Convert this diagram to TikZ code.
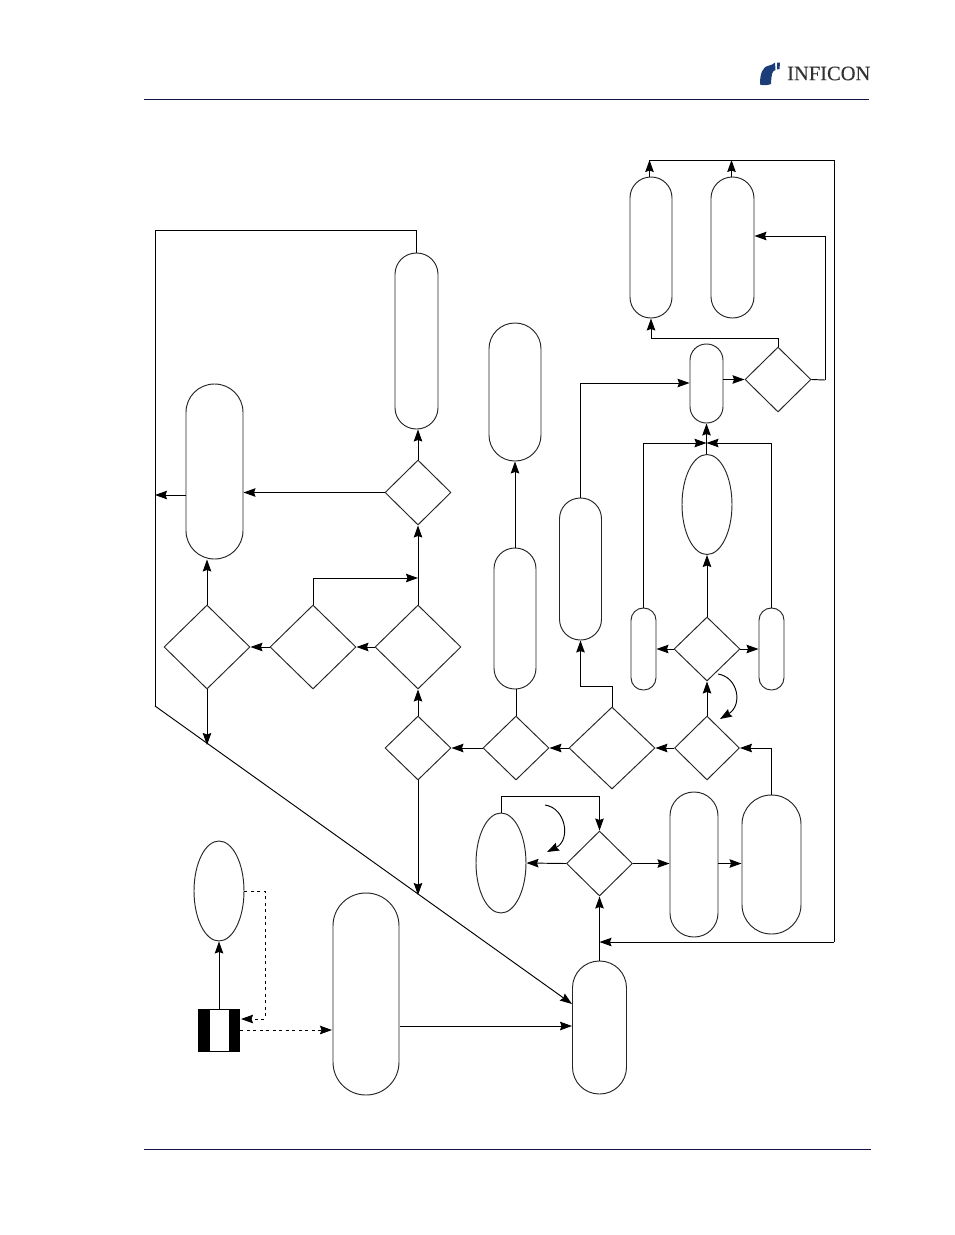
\documentclass[tikz,border=0pt]{standalone}
\usepackage{fontspec}
\setmainfont{Liberation Serif}
\newfontfamily\logofont[FakeBold=0.35]{Liberation Serif}
\usetikzlibrary{shapes.geometric,arrows.meta,calc}
\definecolor{rulenavy}{RGB}{20,20,70}
\definecolor{logoblue}{RGB}{28,62,120}
\tikzset{
  pill/.style 2 args={draw,rectangle,rounded corners=#1*0.5pt-0.2pt,minimum width=#1pt,minimum height=#2pt,inner sep=0pt,line width=0.95pt,draw=black!85},
  oval/.style={draw,ellipse,minimum width=50pt,minimum height=100pt,inner sep=0pt,line width=0.95pt,draw=black!85},
  choice/.style 2 args={draw,diamond,minimum width=#1pt,minimum height=#2pt,inner sep=0pt,line width=0.95pt,draw=black!85},
  flow/.style={-{Stealth[length=12pt,width=8.5pt,inset=1.5pt]},line width=0.95pt},
  plain/.style={line width=0.95pt},
  dashflow/.style={flow,dash pattern=on 3pt off 3.5pt},
  rulebar/.style={draw=rulenavy,line width=1pt}
}
\begin{document}
\begin{tikzpicture}[x=1pt,y=-1pt]
\useasboundingbox (0,0) rectangle (954,1235);

% page header and footer
\coordinate (hl) at (144,99); \coordinate (hr) at (869,99);
\coordinate (fl) at (144,1149); \coordinate (fr) at (871,1149);
\draw[rulebar] (hl) -- (hr);
\draw[rulebar] (fl) -- (fr);
\fill[logoblue] (760,84.5) .. controls (760,74) and (762,67) .. (769,65.5)
  .. controls (772,65) and (773,64) .. (775,62.5)
  -- (775.5,70) .. controls (772,71) and (771.5,74) .. (771,84)
  .. controls (767,85.5) and (763,85.5) .. (760,84.5) -- cycle;
\fill[logoblue] (777,62.5) -- (780,62.5) -- (779.5,69) -- (777,69.5) -- cycle;
\node[inner sep=0pt,anchor=west,font=\logofont\fontsize{20.5}{20.5}\selectfont,text=black!80] (logo) at (787,73.5) {INFICON};

% process and decision shapes
\node[pill={42}{141}] (p1) at (651,247.5) {};
\node[pill={43}{141}] (p2) at (732.5,247.5) {};
\node[pill={33}{79}] (p3) at (706.5,383.5) {};
\node[pill={25}{82}] (p4) at (643.5,649) {};
\node[pill={25}{82}] (p5) at (771.5,649) {};
\node[pill={42}{141}] (p6) at (515,618.5) {};
\node[pill={52}{138}] (p7) at (515,392) {};
\node[pill={42}{142}] (p8) at (580.5,569) {};
\node[pill={43}{176}] (p9) at (416.5,341) {};
\node[pill={57}{175}] (p10) at (214.5,471.5) {};
\node[pill={48}{145}] (p11) at (694,864.5) {};
\node[pill={59}{139}] (p12) at (771.5,864.5) {};
\node[pill={54}{133}] (p13) at (599.5,1027.5) {};
\node[pill={66}{202}] (p14) at (366,994) {};

\node[oval] (e1) at (707,504.5) {};
\node[oval] (e2) at (501,863) {};
\node[oval] (e3) at (219,891) {};

\node[choice={66}{65}] (d1) at (778,379.5) {};
\node[choice={66}{64}] (d2) at (707,649) {};
\node[choice={65}{64}] (d3) at (707,748) {};
\node[choice={86}{82}] (d4) at (612,748) {};
\node[choice={66}{64}] (d5) at (516,748) {};
\node[choice={66}{64}] (d6) at (418,748) {};
\node[choice={66}{65}] (d7) at (418,492.5) {};
\node[choice={86}{84}] (d8) at (418,647) {};
\node[choice={86}{84}] (d9) at (313,647) {};
\node[choice={86}{84}] (d10) at (207,647) {};
\node[choice={66}{65}] (d11) at (599.5,863.5) {};

% striped block
\node[fill=black,minimum width=42pt,minimum height=43pt,inner sep=0pt] (box) at (219,1030.5) {};
\node[fill=white,minimum width=19pt,minimum height=41pt,inner sep=0pt] (slot) at (219.5,1030.5) {};

% routing points
\coordinate (topl) at (649,160);
\coordinate (topr) at (834,160);
\coordinate (topa) at (649.5,160);
\coordinate (topb) at (731.5,160);
\coordinate (feed) at (599.5,942);
\coordinate (d1up) at (778,338);
\coordinate (d1r) at (825,380);
\coordinate (d1t) at (825,236);
\coordinate (join) at (706.5,443);
\coordinate (p8in) at (580.5,383);
\coordinate (d4a) at (612,686);
\coordinate (d4b) at (580.5,686);
\coordinate (d9a) at (313,578);
\coordinate (d9b) at (418,578);
\coordinate (ltop) at (155,230);
\coordinate (lbot) at (155,706);
\coordinate (ltap) at (155,495);
\coordinate (diaga) at (207,745);
\coordinate (diagb) at (418,895);
\coordinate (p13in) at (572,1004);
\coordinate (e2a) at (501,796);
\coordinate (e2b) at (599.5,796);
\coordinate (dashr) at (265,891);
\coordinate (dashb) at (265,1019);
\coordinate (dashe) at (241,1019);
\coordinate (dashs) at (240,1030);
\coordinate (dasht) at (332,1030);

% top collector and return rail
\draw[plain] (topl) -- (topr) -- (834,942);
\draw[flow] (834,942) -- (feed);
\draw[flow] (topa |- p1.north) -- (topa);
\draw[flow] (topb |- p2.north) -- (topb);
\draw[flow] (p13.north) -- (d11.south);

% upper right cluster
\draw[flow] (p3.east |- d1.west) -- (d1.west);
\draw[flow] (d1.north) -- (d1up) -| (p1.south);
\draw[plain] (d1.east) -- (d1r);
\draw[flow] (d1r) -- (d1t) -- (p2.east |- d1t);
\draw[flow] (e1.north -| join) -- (p3.south);
\draw[flow] (p4.north) |- (join);
\draw[flow] (p5.north) |- (join);
\draw[flow] (d2.north) -- (e1.south);
\draw[flow] (d2.west) -- (p4.east);
\draw[flow] (d2.east) -- (p5.west);
\draw[flow] (d3.north) -- (d2.south);
\coordinate (c1a) at (718,674); \coordinate (c1b) at (720,719);
\draw[flow] (c1a) .. controls (738,677) and (743,705) .. (c1b);

% central row
\draw[flow] (p12.north) |- (d3.east);
\draw[flow] (d3.west) -- (d4.east);
\draw[flow] (d4.west) -- (d5.east);
\draw[flow] (d5.west) -- (d6.east);
\draw[plain] (d5.north) -- (p6.south -| d5.north);
\draw[flow] (p6.north -| p7.south) -- (p7.south);
\draw[flow] (d4.north) -- (d4a) -- (d4b) -- (p8.south);
\draw[flow] (p8.north) -- (p8in) -- (p3.west |- p8in);

% left column
\draw[flow] (d6.north) -- (d8.south);
\draw[flow] (d8.west) -- (d9.east);
\draw[flow] (d9.west) -- (d10.east);
\draw[flow] (d10.north) -- (d10.north |- p10.south);
\draw[flow] (d8.north) -- (d7.south);
\draw[flow] (d9.north) -- (d9a) -- (d9b);
\draw[flow] (d7.north) -- (p9.south -| d7.north);
\draw[flow] (d7.west) -- (p10.east |- d7.west);
\draw[flow] (p10.west |- ltap) -- (ltap);
\draw[plain] (p9.north) -- (p9.north |- ltop) -- (ltop) -- (lbot);
\draw[flow] (lbot) -- (p13in);
\draw[flow] (d10.south) -- (diaga);
\draw[flow] (d6.south) -- (diagb);

% lower cluster
\draw[flow] (e2.north) -- (e2a) -- (e2b) -- (d11.north);
\draw[flow] (d11.west) -- (e2.east);
\draw[flow] (d11.east) -- (p11.west |- d11.east);
\draw[flow] (p11.east |- d11.east) -- (p12.west |- d11.east);
\coordinate (c2a) at (545,805); \coordinate (c2b) at (547,852);
\draw[flow] (c2a) .. controls (566,808) and (571,840) .. (c2b);
\coordinate (p14o) at (400,1026);
\draw[flow] (p14o) -- (p13.west |- p14o);

% block links
\draw[flow] (box.north) -- (e3.south);
\draw[dashflow] (e3.east) -- (dashr) -- (dashb) -- (dashe);
\draw[dashflow] (dashs) -- (dasht);
\end{tikzpicture}
\end{document}
